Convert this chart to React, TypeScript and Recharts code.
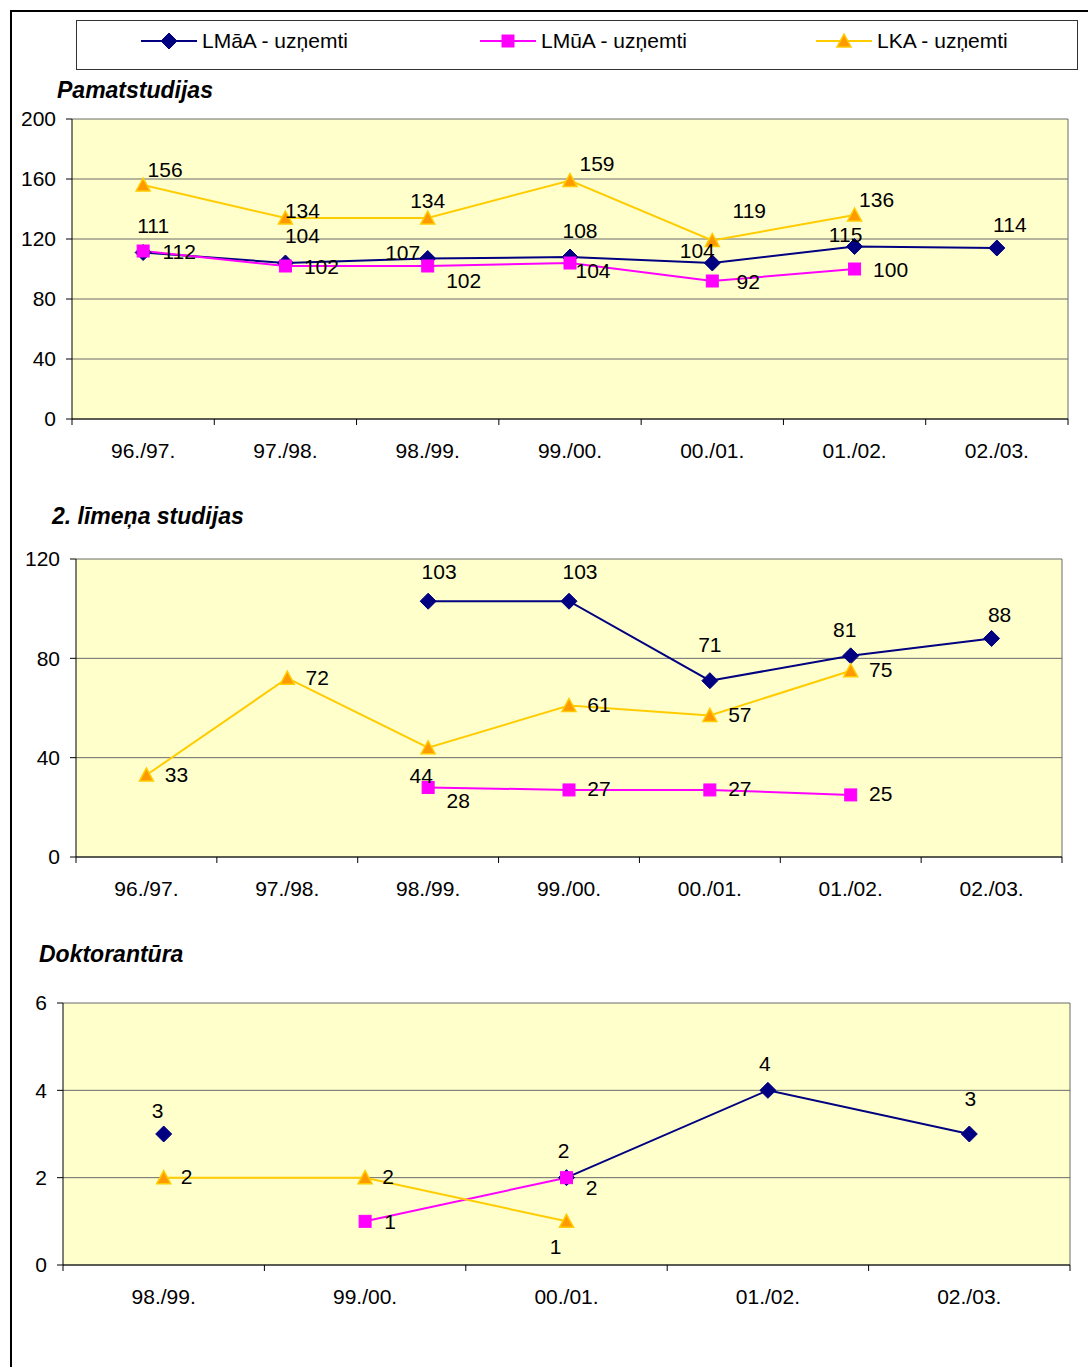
import React from "react";
import { LineChart, Line, XAxis, YAxis, CartesianGrid, LabelList } from "recharts";

const FONT = "'Liberation Sans', Arial, sans-serif";
const NAVY = "#000080";
const MAGENTA = "#FF00FF";
const GOLD = "#FFCC00";
const ORANGE = "#FF9900";
const PLOT_BG = "#FFFFCC";

// categories
const yearsAll = ["96./97.", "97./98.", "98./99.", "99./00.", "00./01.", "01./02.", "02./03."];
const yearsDokt = ["98./99.", "99./00.", "00./01.", "01./02.", "02./03."];

// Pamatstudijas
const pamatLMaA = [111, 104, 107, 108, 104, 115, 114];
const pamatLMuA = [112, 102, 102, 104, 92, 100, null];
const pamatLKA = [156, 134, 134, 159, 119, 136, null];
const pamatTicks = [0, 40, 80, 120, 160, 200];

// 2. līmeņa studijas
const limenLMaA = [null, null, 103, 103, 71, 81, 88];
const limenLMuA = [null, null, 28, 27, 27, 25, null];
const limenLKA = [33, 72, 44, 61, 57, 75, null];
const limenTicks = [0, 40, 80, 120];

// Doktorantūra
const doktLMaA = [3, null, 2, 4, 3];
const doktLMuA = [null, 1, 2, null, null];
const doktLKA = [2, 2, 1, null, null];
const doktTicks = [0, 2, 4, 6];

const seriesNames = ["LMāA - uzņemti", "LMūA - uzņemti", "LKA - uzņemti"];

type Shape = "diamond" | "square" | "triangle";
type Shift = Record<number, [number, number]>;

function marker(shape: Shape, cx: number, cy: number, key?: string) {
  if (shape === "diamond") {
    return (
      <polygon key={key} points={`${cx},${cy - 8} ${cx + 8},${cy} ${cx},${cy + 8} ${cx - 8},${cy}`} fill={NAVY} stroke={NAVY} />
    );
  }
  if (shape === "square") {
    return <rect key={key} x={cx - 6} y={cy - 6} width={12} height={12} fill={MAGENTA} stroke={MAGENTA} />;
  }
  return (
    <polygon key={key} points={`${cx},${cy - 7} ${cx + 7},${cy + 6} ${cx - 7},${cy + 6}`} fill={ORANGE} stroke={GOLD} strokeWidth={1.5} />
  );
}

const dotFor = (shape: Shape) => (p: any) => {
  const { cx, cy, index } = p;
  if (cx == null || cy == null || Number.isNaN(cx) || Number.isNaN(cy)) return <g key={`e-${index}`} />;
  return marker(shape, cx, cy, `d-${index}`);
};

const labelFor = (dx: number, dy: number, shifts: Shift) => (p: any) => {
  const { value, index } = p;
  const x = p.x ?? p.viewBox?.x;
  const y = p.y ?? p.viewBox?.y;
  if (value == null || x == null || y == null) return null;
  const [sx, sy] = shifts[index] ?? [dx, dy];
  return (
    <text x={x + sx} y={y + sy} textAnchor="middle" dominantBaseline="central" fontSize={21} fontFamily={FONT} fill="#000">
      {value}
    </text>
  );
};

const xTickFor = (cats: string[]) => (p: any) => {
  const { x, y, payload } = p;
  const v = payload.value;
  if (Number.isInteger(v)) return <line x1={x} y1={y} x2={x} y2={y + 6} stroke="#000" />;
  return (
    <text x={x} y={y + 31} textAnchor="middle" dominantBaseline="central" fontSize={21} fontFamily={FONT} fill="#000">
      {cats[Math.floor(v)]}
    </text>
  );
};

interface SeriesDef {
  key: string;
  color: string;
  shape: Shape;
  dx: number;
  dy: number;
  shifts: Shift;
}

interface PanelProps {
  top: number;
  height: number;
  margin: { top: number; right: number; bottom: number; left: number };
  yWidth: number;
  yTicks: number[];
  cats: string[];
  values: (number | null)[][];
  series: SeriesDef[];
}

function Panel({ top, height, margin, yWidth, yTicks, cats, values, series }: PanelProps) {
  const rows = cats.map((c, i) => ({
    x: i + 0.5,
    cat: c,
    lmaa: values[0][i],
    lmua: values[1][i],
    lka: values[2][i],
  }));
  const xTicks = Array.from({ length: cats.length * 2 + 1 }, (_, i) => i / 2);
  return (
    <div style={{ position: "absolute", left: 0, top }}>
      <LineChart width={1088} height={height} data={rows} margin={margin}>
        <CartesianGrid
          fill={PLOT_BG}
          stroke="#6a6a6a"
          verticalCoordinatesGenerator={({ offset }: any) => [offset.left + offset.width]}
        />
        <XAxis
          type="number"
          dataKey="x"
          domain={[0, cats.length]}
          ticks={xTicks}
          interval={0}
          tick={xTickFor(cats)}
          tickLine={false}
          tickSize={0}
          tickMargin={0}
          height={50}
          axisLine={{ stroke: "#000" }}
        />
        <YAxis
          width={yWidth}
          domain={[yTicks[0], yTicks[yTicks.length - 1]]}
          ticks={yTicks}
          interval={0}
          tickSize={6}
          tickMargin={10}
          tickLine={{ stroke: "#000" }}
          axisLine={{ stroke: "#000" }}
          tick={{ fontSize: 21, fill: "#000", fontFamily: FONT }}
        />
        {series.map((s) => (
          <Line
            key={s.key}
            dataKey={s.key}
            type="linear"
            stroke={s.color}
            strokeWidth={2}
            dot={dotFor(s.shape)}
            activeDot={false}
            isAnimationActive={false}
          >
            <LabelList dataKey={s.key} content={labelFor(s.dx, s.dy, s.shifts)} />
          </Line>
        ))}
      </LineChart>
    </div>
  );
}

function LegendBox() {
  const items: { left: number; color: string; shape: Shape; text: string }[] = [
    { left: 141, color: NAVY, shape: "diamond", text: seriesNames[0] },
    { left: 480, color: MAGENTA, shape: "square", text: seriesNames[1] },
    { left: 816, color: GOLD, shape: "triangle", text: seriesNames[2] },
  ];
  return (
    <div
      style={{
        position: "absolute",
        left: 76,
        top: 20,
        width: 1000,
        height: 48,
        border: "1px solid #333",
        background: "#fff",
      }}
    >
      {items.map((it) => (
        <div key={it.text} style={{ position: "absolute", left: it.left - 77, top: -4, height: 48, display: "flex", alignItems: "center" }}>
          <svg width={58} height={20}>
            <line x1={0} y1={10} x2={56} y2={10} stroke={it.color} strokeWidth={2} />
            {marker(it.shape, 28, 10)}
          </svg>
          <span style={{ fontFamily: FONT, fontSize: 21, color: "#000", marginLeft: 3, whiteSpace: "nowrap" }}>{it.text}</span>
        </div>
      ))}
    </div>
  );
}

const titleStyle: React.CSSProperties = {
  position: "absolute",
  fontFamily: FONT,
  fontSize: 23,
  fontWeight: "bold",
  fontStyle: "italic",
  lineHeight: "24px",
  whiteSpace: "nowrap",
  color: "#000",
};

export default function App() {
  const s1: SeriesDef[] = [
    { key: "lmaa", color: NAVY, shape: "diamond", dx: 10, dy: -27, shifts: { 1: [17, -28], 2: [-25, -6], 4: [-15, -13], 5: [-9, -12], 6: [13, -24] } },
    { key: "lmua", color: MAGENTA, shape: "square", dx: 36, dy: 0, shifts: { 2: [36, 14], 3: [23, 7] } },
    { key: "lka", color: GOLD, shape: "triangle", dx: 22, dy: -16, shifts: { 1: [17, -8], 2: [0, -18], 3: [27, -17], 4: [37, -30] } },
  ];
  const s2: SeriesDef[] = [
    { key: "lmaa", color: NAVY, shape: "diamond", dx: 11, dy: -30, shifts: { 4: [0, -36], 5: [-6, -26], 6: [8, -24] } },
    { key: "lmua", color: MAGENTA, shape: "square", dx: 30, dy: -1, shifts: { 2: [30, 13] } },
    { key: "lka", color: GOLD, shape: "triangle", dx: 30, dy: -1, shifts: { 2: [-7, 28] } },
  ];
  const s3: SeriesDef[] = [
    { key: "lmaa", color: NAVY, shape: "diamond", dx: -3, dy: -27, shifts: { 0: [-6, -24], 4: [1, -36] } },
    { key: "lmua", color: MAGENTA, shape: "square", dx: 25, dy: 0, shifts: { 2: [25, 10] } },
    { key: "lka", color: GOLD, shape: "triangle", dx: 23, dy: -1, shifts: { 2: [-11, 25] } },
  ];

  return (
    <div style={{ position: "absolute", left: 0, top: 0, width: 1088, height: 1367, overflow: "hidden", background: "#fff" }}>
      <div
        style={{
          position: "absolute",
          left: 10,
          top: 10,
          width: 1100,
          height: 1400,
          borderLeft: "2px solid #000",
          borderTop: "2px solid #000",
        }}
      />
      <LegendBox />

      <div style={{ ...titleStyle, left: 57, top: 78 }}>Pamatstudijas</div>
      <Panel
        top={100}
        height={390}
        margin={{ top: 19, right: 20, bottom: 21, left: 0 }}
        yWidth={72}
        yTicks={pamatTicks}
        cats={yearsAll}
        values={[pamatLMaA, pamatLMuA, pamatLKA]}
        series={s1}
      />

      <div style={{ ...titleStyle, left: 52, top: 504 }}>2. līmeņa studijas</div>
      <Panel
        top={540}
        height={380}
        margin={{ top: 19, right: 26, bottom: 13, left: 0 }}
        yWidth={76}
        yTicks={limenTicks}
        cats={yearsAll}
        values={[limenLMaA, limenLMuA, limenLKA]}
        series={s2}
      />

      <div style={{ ...titleStyle, left: 39, top: 942 }}>Doktorantūra</div>
      <Panel
        top={984}
        height={360}
        margin={{ top: 19, right: 18, bottom: 29, left: 0 }}
        yWidth={63}
        yTicks={doktTicks}
        cats={yearsDokt}
        values={[doktLMaA, doktLMuA, doktLKA]}
        series={s3}
      />
    </div>
  );
}
